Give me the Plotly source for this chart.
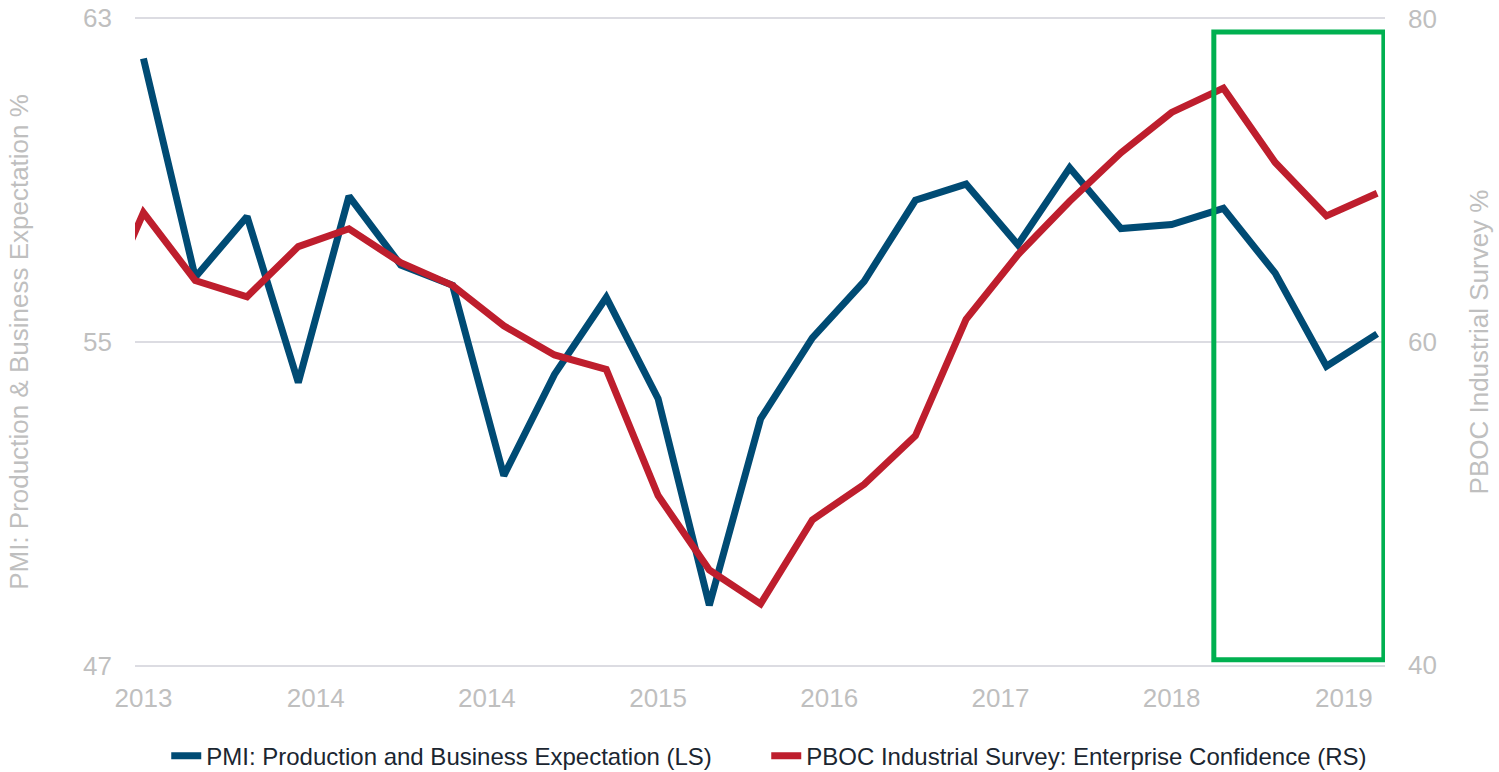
import plotly.graph_objects as go
import pandas as pd

# Quarterly dates (first blue point = 2013-03)
dates = pd.date_range("2013-03-01", periods=25, freq="3MS").strftime("%Y-%m-%d").tolist()
red_dates = ["2012-12-01"] + dates

pmi_expectation = [62.0, 56.6, 58.1, 54.0, 58.6, 56.9, 56.4, 51.7, 54.2, 56.1,
                   53.6, 48.5, 53.1, 55.1, 56.5, 58.5, 58.9, 57.4, 59.3, 57.8,
                   57.9, 58.3, 56.7, 54.4, 55.2]
pboc_confidence = [60.8, 68.0, 63.8, 62.8, 65.9, 67.0, 64.9, 63.5, 61.0, 59.2, 58.3,
                   50.5, 45.9, 43.8, 49.0, 51.2, 54.2, 61.4, 65.4, 68.7, 71.7,
                   74.2, 75.7, 71.1, 67.8, 69.2]

tick_dates = ["2013-03-01", "2014-01-01", "2014-11-01", "2015-09-01",
              "2016-07-01", "2017-05-01", "2018-03-01", "2019-01-01"]
tick_labels = ["2013", "2014", "2014", "2015", "2016", "2017", "2018", "2019"]

left_ticks = [47, 55, 63]
right_ticks = [40, 60, 80]

BLUE = "#004B74"
RED = "#BE1E2D"
GREEN = "#00B050"
GREY = "#BFBFBF"
FONT = "Liberation Sans, Arial, sans-serif"

fig = go.Figure()
fig.add_trace(go.Scatter(
    x=dates, y=pmi_expectation, mode="lines",
    name="PMI: Production and Business Expectation (LS)",
    line=dict(color=BLUE, width=7), yaxis="y"))
fig.add_trace(go.Scatter(
    x=red_dates, y=pboc_confidence, mode="lines",
    name="PBOC Industrial Survey: Enterprise Confidence (RS)",
    line=dict(color=RED, width=7), yaxis="y2"))

fig.add_shape(type="rect", xref="x", yref="paper",
              x0="2018-05-15", x1="2019-03-13", y0=0.011, y1=0.977,
              line=dict(color=GREEN, width=5), fillcolor="rgba(0,0,0,0)")

fig.update_layout(
    width=1499, height=772,
    margin=dict(l=135, r=114, t=17, b=105, autoexpand=False),
    paper_bgcolor="white", plot_bgcolor="white",
    font=dict(family=FONT, color=GREY),
    showlegend=True,
    legend=dict(orientation="h", x=0.505, xanchor="center", y=-0.137, yanchor="middle",
                font=dict(size=24, color="#1B2631", family=FONT),
                entrywidth=555, traceorder="normal"),
    xaxis=dict(type="date", range=["2013-02-14", "2019-03-15"],
               tickvals=tick_dates, ticktext=tick_labels, automargin=False,
               showgrid=False, zeroline=False, showline=False, ticks="",
               tickfont=dict(size=26, color=GREY), ticklabelstandoff=13),
    yaxis=dict(range=[46.975, 63.025], tickvals=left_ticks, showgrid=True,
               gridcolor="#DCDCE2", gridwidth=2, zeroline=False, showline=False,
               automargin=False,
               ticks="", tickfont=dict(size=26, color=GREY), ticklabelstandoff=22,
               title=dict(text="PMI: Production & Business Expectation %",
                          font=dict(size=26, color=GREY), standoff=46)),
    yaxis2=dict(range=[39.9, 80.1], tickvals=right_ticks, overlaying="y", side="right",
                showgrid=False, zeroline=False, showline=False, ticks="",
                automargin=False,
                tickfont=dict(size=26, color=GREY), ticklabelstandoff=22,
                title=dict(text="PBOC Industrial Survey %",
                           font=dict(size=26, color=GREY), standoff=33)),
)

fig.write_html("out.html")
